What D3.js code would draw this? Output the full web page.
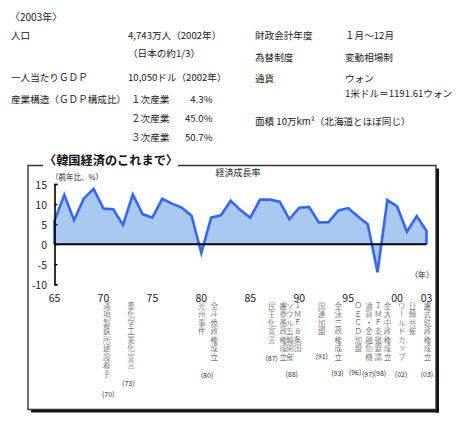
<!DOCTYPE html>
<html><head><meta charset="utf-8">
<script src="https://cdn.jsdelivr.net/npm/d3@7"></script>
<style>
html,body{margin:0;padding:0;background:#fff;}
svg{display:block;}
text{font-family:"Noto Sans CJK JP","Liberation Sans",sans-serif;}
</style></head>
<body>
<svg id="c" width="461" height="421"></svg>
<script>
// ---- data ----
const years = [1965,1966,1967,1968,1969,1970,1971,1972,1973,1974,1975,1976,1977,1978,1979,1980,1981,1982,1983,1984,1985,1986,1987,1988,1989,1990,1991,1992,1993,1994,1995,1996,1997,1998,1999,2000,2001,2002,2003];
const growth = [5.8,12.3,6.0,11.4,13.8,8.9,8.7,4.8,12.4,7.5,6.6,11.3,10.1,9.1,7.1,-2.2,6.6,7.2,10.8,8.5,6.6,11.1,11.1,10.6,6.2,9.1,9.3,5.4,5.5,8.4,9.0,6.9,5.0,-7.0,11.0,9.4,3.1,7.0,3.3];
const yTicks = [15,10,5,0,-5,-10];
const xTickYears = [1965,1970,1975,1980,1985,1990,1995,2000,2003];
const xTickLabels = ["65","70","75","80","85","90","95","00","03"];
const chartTitle = "〈韓国経済のこれまで〉";
const seriesName = "経済成長率";
const yUnit = "（前年比、%）";
const xUnit = "（年）";
// events: text, anchor year on axis
const events = [
  {t:"浦項製鉄所建設着手", at:1970.33},
  {t:"重化学工業化宣言", at:1972.81},
  {t:"光州事件", at:1980.04},
  {t:"全斗煥政権成立", at:1981.32},
  {t:"民主化宣言", at:1987.19},
  {t:"盧泰愚政権成立", at:1988.37},
  {t:"ソウル五輪開催", at:1989.06},
  {t:"ＩＭＦ８条国", at:1989.84},
  {t:"国連加盟", at:1992.30},
  {t:"金泳三政権成立", at:1993.99},
  {t:"ＯＥＣＤ加盟", at:1996.03},
  {t:"通貨・金融危機", at:1997.13},
  {t:"ＩＭＦ支援要請", at:1998.08},
  {t:"金大中政権成立", at:1999.02},
  {t:"ワールドカップ", at:2000.47},
  {t:"日韓共催", at:2001.57},
  {t:"盧武鉉政権成立", at:2003.1}
];
const eventYears = [
  {t:"(70)", at:1970.48, row:394},
  {t:"(73)", at:1972.54, row:383},
  {t:"(80)", at:1980.58, row:375},
  {t:"(87)", at:1987.19, row:358},
  {t:"(88)", at:1989.23, row:374},
  {t:"(91)", at:1992.30, row:356},
  {t:"(93)", at:1993.90, row:373},
  {t:"(96)", at:1995.70, row:372},
  {t:"(97)", at:1997.05, row:374},
  {t:"(98)", at:1998.25, row:373},
  {t:"(02)", at:2000.40, row:374},
  {t:"(03)", at:2003.05, row:374}
];
// profile table
const leftRows = [
  {k:"人口", v:"4,743万人（2002年）"},
  {k:"", v:"（日本の約1/3）"},
  {k:"一人当たりＧＤＰ", v:"10,050ドル（2002年）"},
  {k:"産業構造（ＧＤＰ構成比）", v:"１次産業", n:"4.3%"},
  {k:"", v:"２次産業", n:"45.0%"},
  {k:"", v:"３次産業", n:"50.7%"}
];
const rightRows = [
  {k:"財政会計年度", v:"１月～12月"},
  {k:"為替制度", v:"変動相場制"},
  {k:"通貨", v:"ウォン"},
  {k:"", v:"1米ドル＝1191.61ウォン"},
  {k:"面積  10万km²（北海道とほぼ同じ）", v:""}
];

const svg = d3.select("#c");
const ink = "#222";

// ---- header ----
svg.append("text").attr("x",10).attr("y",16).attr("dominant-baseline","central")
  .attr("font-size",10).attr("fill",ink).text("〈2003年〉");
const leftY = [35,52.7,77.3,99.3,118,137];
leftRows.forEach((r,i)=>{
  const g = svg.append("g").attr("font-size",9.6).attr("fill",ink);
  if(r.k) g.append("text").attr("x",11).attr("y",leftY[i]).attr("dominant-baseline","central").text(r.k);
  g.append("text").attr("x", r.n ? 131 : 128).attr("y",leftY[i]).attr("dominant-baseline","central").text(r.v);
  if(r.n) g.append("text").attr("x",212.5).attr("y",leftY[i]).attr("text-anchor","end").attr("dominant-baseline","central").text(r.n);
});
const rightY = [35,57.3,78.3,93,120.7];
rightRows.forEach((r,i)=>{
  const g = svg.append("g").attr("font-size",9.6).attr("fill",ink);
  if(r.k) g.append("text").attr("x",255).attr("y",rightY[i]).attr("dominant-baseline","central").text(r.k);
  if(r.v) g.append("text").attr("x",345).attr("y",rightY[i]).attr("dominant-baseline","central").text(r.v);
});

// ---- frame ----
const F = {l:28, t:165.5, r:436, b:409.5};
svg.append("rect").attr("x",F.l+3).attr("y",F.b).attr("width",F.r-F.l).attr("height",3).attr("fill","#111");
svg.append("rect").attr("x",F.r).attr("y",F.t+3).attr("width",3).attr("height",F.b-F.t).attr("fill","#111");
const fr = svg.append("g").attr("stroke","#333").attr("stroke-width",1.4).attr("fill","none");
fr.append("path").attr("d",`M43,${F.t}H${F.l}V${F.b}H${F.r}V${F.t}H178`);
svg.append("text").attr("x",111).attr("y",160).attr("text-anchor","middle").attr("dominant-baseline","central")
  .attr("font-size",12.2).attr("font-weight","bold").attr("fill","#111").text(chartTitle);

// ---- scales ----
const x = d3.scaleLinear().domain([1965,2003]).range([54.5,426.5]);
const y = d3.scaleLinear().domain([-10,15]).range([284.3,184]);
const pts = years.map((yr,i)=>({yr, v:growth[i]}));

const area = d3.area().x(d=>x(d.yr)).y0(y(0)).y1(d=>y(d.v));
svg.append("path").datum(pts).attr("d",area).attr("fill","#a9c9f1").attr("stroke","none");
const line = d3.line().x(d=>x(d.yr)).y(d=>y(d.v));
const outline = [{yr:1965,v:0}, ...pts, {yr:2003,v:0}];
svg.append("path").datum(outline).attr("d",line).attr("fill","none")
  .attr("stroke","#3366ff").attr("stroke-width",2.6).attr("stroke-linejoin","miter");
// zero line
svg.append("line").attr("x1",x(1965)).attr("x2",x(2003)).attr("y1",y(0)).attr("y2",y(0))
  .attr("stroke","#000").attr("stroke-width",2);

// y axis
const yAxis = d3.axisRight(y).tickValues(yTicks).tickSize(3).tickFormat("");
const ya = svg.append("g").attr("transform",`translate(${x(1965)},0)`).call(yAxis);
ya.select(".domain").attr("stroke","#000").attr("stroke-width",1.6);
ya.selectAll(".tick line").attr("stroke","#000").attr("stroke-width",1.4);
svg.append("g").selectAll("text").data(yTicks).join("text")
  .attr("x",47).attr("y",d=>y(d)).attr("text-anchor","end").attr("dominant-baseline","central")
  .attr("font-family","Liberation Sans, Arial, sans-serif").attr("font-size",10.5).attr("fill",ink)
  .text(d=>d);

// x tick labels
svg.append("g").selectAll("text").data(xTickYears).join("text")
  .attr("x",d=>x(d)).attr("y",297).attr("text-anchor","middle").attr("dominant-baseline","central")
  .attr("font-family","Liberation Sans, Arial, sans-serif").attr("font-size",10.5).attr("fill",ink)
  .text((d,i)=>xTickLabels[i]);

// units
svg.append("text").attr("x",51).attr("y",176.5).attr("dominant-baseline","central")
  .attr("font-size",7.5).attr("fill",ink).text(yUnit);
svg.append("text").attr("x",422).attr("y",274).attr("text-anchor","middle").attr("dominant-baseline","central")
  .attr("font-size",8).attr("fill",ink).text(xUnit);
svg.append("text").attr("x",238).attr("y",172).attr("text-anchor","middle").attr("dominant-baseline","central")
  .attr("font-size",9).attr("fill",ink).text(seriesName);

// events (vertical)
svg.append("g").selectAll("text").data(events).join("text")
  .attr("x",d=>x(d.at)).attr("y",302)
  .attr("style","writing-mode:vertical-rl;text-orientation:upright;letter-spacing:1px")
  .attr("font-size",7.5).attr("font-weight",300).attr("fill","#333").text(d=>d.t);
svg.append("g").selectAll("text").data(eventYears).join("text")
  .attr("x",d=>x(d.at)).attr("y",d=>d.row).attr("text-anchor","middle").attr("dominant-baseline","central")
  .attr("font-size",7).attr("fill","#333").text(d=>d.t);
</script>
</body></html>
